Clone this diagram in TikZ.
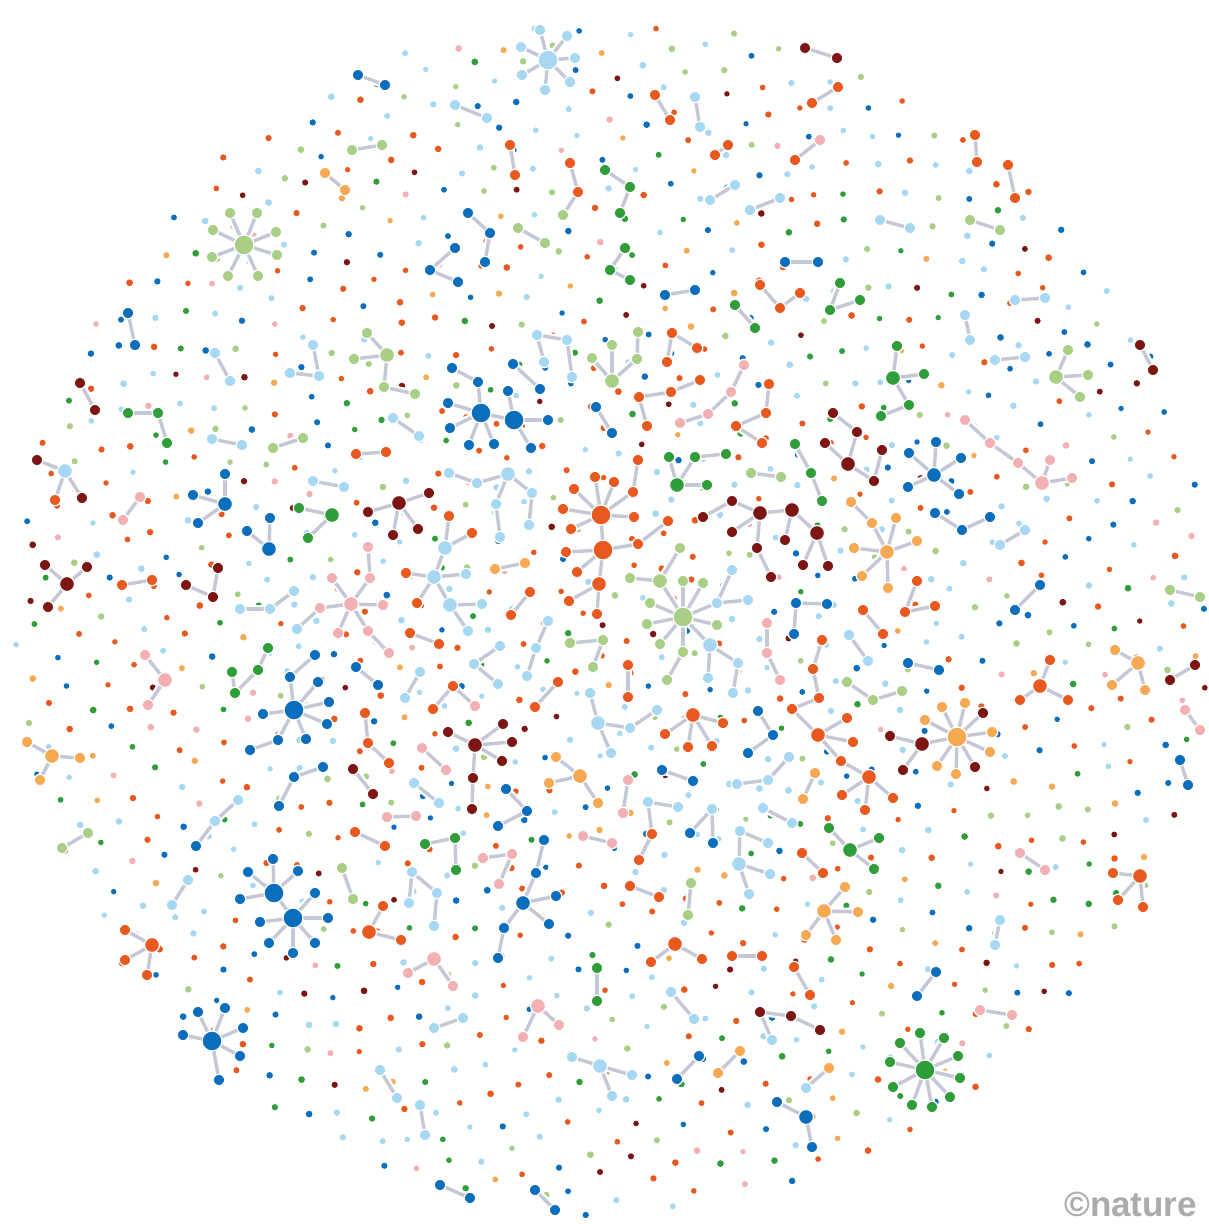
\documentclass[tikz,border=0pt]{standalone}
\usepackage{fontspec}
\setmainfont{Liberation Sans}
\definecolor{db}{HTML}{0B6EBD}
\definecolor{lb}{HTML}{A6D8F3}
\definecolor{or}{HTML}{E8591F}
\definecolor{dr}{HTML}{7C1612}
\definecolor{gr}{HTML}{2F9D3A}
\definecolor{lg}{HTML}{A9CE85}
\definecolor{og}{HTML}{F6A953}
\definecolor{pk}{HTML}{F2B0B3}
\definecolor{lnkc}{HTML}{C4C7D6}
\definecolor{logoc}{HTML}{ABABAB}
\colorlet{s0}{or}\colorlet{s1}{or}\colorlet{s2}{or}\colorlet{s3}{or}\colorlet{s4}{or}
\colorlet{s5}{lb}\colorlet{s6}{lb}\colorlet{s7}{lb}\colorlet{s8}{lb}\colorlet{s9}{lb}
\colorlet{s10}{db}\colorlet{s11}{db}\colorlet{s12}{db}
\colorlet{s13}{lg}\colorlet{s14}{lg}
\colorlet{s15}{gr}\colorlet{s16}{gr}
\colorlet{s17}{dr}\colorlet{s18}{pk}\colorlet{s19}{og}
\pgfdeclarelayer{dots}\pgfdeclarelayer{cas}\pgfdeclarelayer{lnk}
\pgfsetlayers{dots,cas,lnk,main}
\tikzset{
  nl/.style={circle,inner sep=0pt,minimum size=11.5pt,draw=white,line width=1.2pt},
  nm/.style={circle,inner sep=0pt,minimum size=15pt,draw=white,line width=1.2pt},
  nh/.style={circle,inner sep=0pt,minimum size=20pt,draw=white,line width=1.2pt},
  edgecase/.style={white,line width=8pt},
  edgeline/.style={lnkc,line width=3.4pt}
}
\newcommand\pts[3]{\foreach \nm/\xx/\yy in {#3}{\node[#1,fill=#2] (\nm) at (\xx,\yy) {};}}
\def\elist{A0/A1,A0/A2,A0/A3,A0/A4,A0/A5,A0/A6,A0/A7,
B0/B1,B0/B2,B0/B3,B0/B4,B0/B5,B0/B6,B0/B7,B0/B8,
C1/C2,D1/D2,D2/D3,E0/E1,E0/E2,E0/E3,E3/E4,
F1/F2,F2/F0,F0/F3,F0/F4,F0/F5,F0/F6,F0/G0,G0/G1,G0/G2,G0/G3,
H1/H2,I1/I2,I1/I4,I2/I3,J1/J2,K1/K2,L1/L2,M1/M2,
N0/N1,N0/N2,N0/N3,O1/O2,O3/O2,P1/P2,Q0/Q1,Q0/Q2,
R0/R1,R0/R2,R0/R3,R0/R4,
S1/S2,S2/S3,S3/S4,S3/S5,S5/S6,S4/S7,
T0/T1,T1/T6,T1/T7,T0/T2,T0/T3,T3/T4,T3/T5,T0/T8,T0/T9,
U1/U2,V1/V2,
W0/W1,W1/W2,W0/W3,W0/W4,W0/W5,W0/W6,W0/W7,W7/W8,W4/W9,
X1/X2,X2/X3,Y1/Y2,Y3/Y2,Z1/Z2,
AA1/AA2,AA2/AA3,AB1/AB2,AB2/AB3,AC1/AC2,AC2/AC4,AC3/AC4,
AD0/AD1,AD1/AD2,AD0/AD3,AD0/AD4,AD0/AD5,AD0/AD6,AD0/AD7,AD0/AD8,AD8/AD9,
AE1/AE2,AF1/AF2,AG1/AG2,AG1/AG3,AH1/AH2,
BA0/BA1,BA0/BA2,BA0/BA3,BA3/BA4,BB1/BB2,BB1/BB3,
BC1/BC2,BC2/BC3,BC1/BC4,BD1/BD2,
BE1/BE2,BE2/BE3,BE3/BE4,BF1/BF2,BF2/BF3,BF3/BF4,
BG1/BG0,BG0/BG2,BG0/BG3,BG3/BG4,
BH1/BH2,BH2/BH0,BH3/BH0,BH0/BH5,BH5/BH4,
BI1/BI2,BI2/BI3,BJ1/BJ2,
BK0/BK1,BK0/BK2,BK0/BK3,BK0/BK4,BK0/BK5,BL1/BL2,BL2/BL3,
BM0/BM1,BM0/BM2,BM2/BM3,BM0/BM4,
BN0/BN3,BN0/BN4,BN0/BN5,BN0/BN6,BN6/BN7,BN0/BN8,BN0/BN9,BN0/BN10,BN0/BN1,BN1/BN11,BN1/BN12,BN1/BN13,BN13/BN14,BN1/BN2,BN2/BN15,BN2/BN16,
BO0/BO1,BO1/BO2,BO1/BO3,BO0/BO4,BO0/BO5,BO0/BO6,BO0/BO7,BO0/BO8,BO0/BO9,BO9/BO10,BO0/BO11,BO0/BO12,BO12/BO13,BO12/BO14,BO13/BO15,BO0/BO16,BO16/BO17,BO16/BO18,
BP1/BP2,BP1/BP3,BQ1/BQ2,
BR1/BR2,BR2/BR0,BR0/BR3,BR0/BR4,BR0/BR5,BR5/BR6,BR3/BR7,BR3/BR8,BR8/BR9,BR8/BR10,
BS1/BS2,BS2/BS0,BS0/BS3,BS0/BS4,BS0/BS5,BS0/BS6,BS0/BS7,
BT1/BT2,BT1/BT3,BU1/BU2,BU2/BU3,BV1/BV2,BW1/BW2,BW2/BW3,BX1/BX2,
BY1/BY2,BY2/BY3,BY3/BY4,BY4/CF0,BZ1/BZ2,BZ2/BZ3,CB1/CB2,
CC0/CC1,CC0/CC2,CC2/CC3,CC0/CC4,
CD0/CD1,CD0/CD2,CD0/CD3,CD0/CD4,CE1/CE2,CE2/CE3,
CF0/CF1,CF0/CF2,CF0/CF3,CF3/CF4,CF4/CF5,CF4/CF6,CF4/CF7,
CG0/CG1,CG0/CG2,CG0/CG3,CG0/CG4,CG0/CG5,CG0/CG6,CG0/CG7,CG0/CG8,CG0/CG9,CG0/CG10,CG10/CG11,CG10/CG12,
CH1/CH2,CI1/CI2,CI2/CI3,CJ0/CJ1,CJ0/CJ2,CJ0/CJ3,CK1/CK2,CL1/CL2,
CM1/CM2,CM1/CM3,CM3/CM4,CN0/CN1,CN0/CN2,
CO1/CO2,CO1/CO3,CO3/CO4,CO3/CO5,CP1/CP2,
CQ0/CQ1,CQ0/CQ2,CQ0/CQ3,CR1/CR2,CS1/CS2,CT1/CT2,CU1/CU2,
CV0/CV1,CV0/CV2,CV0/CV3,CV0/CV4,CW1/CW2,CW1/CW3,
CX1/CX2,CY1/CY2,CZ1/CZ2,DA1/DA2,DB1/DB2,
DC1/DC2,DC2/DC3,DC1/DC4,
DD0/DD1,DD0/DD2,DD0/DD3,DD0/DD4,DD0/DD5,DD0/DD6,DD0/DD7,DD0/DD8,DD0/DD9,DD0/DD10,
DE0/DE1,DE0/DE2,DE0/DE3,DF1/DF2,DG1/DG2,DH1/DH2,DI0/DI1,DI0/DI2,
EA1/EA2,EA2/EA3,EB1/EB2,EB2/EB3,EC1/EC2,EC2/EC3,ED1/ED2,
EE0/EE1,EE0/EE2,EE0/EE3,EE0/EE4,EE0/EE5,EE5/EE6,
EF1/EF2,EG1/EG2,EH1/EH2,EI1/EI2,EI2/EI3,EJ1/EJ2,EK1/EK2,EK2/EK3,
EL2/EL1,EL1/EL3,EM1/EM2,EN1/EN2,EN1/EN3,EN2/EN4,
EO1/EO2,EO2/EO0,EO0/EO3,EO0/EO4,EO0/EO5,EO5/EO6,
EP0/EP1,EP0/EP2,EP0/EP3,EP0/EP4,EP0/EQ0,
EQ0/EQ1,EQ0/EQ2,EQ0/EQ3,EQ0/EQ4,EQ0/EQ5,EQ0/EQ6,
ER1/ER2,ER2/ER3,ES1/ES2,ES1/ES3,ET1/ET2,ET1/ET3,EU1/EU2,
EV0/EV1,EV0/EV2,EV0/EV3,EV0/EV4,EV0/EV5,EV0/EV6,EW1/EW2,
FA1/FA2,FB1/FB2,FC1/FC2,FC3/FC4,FD1/FD2,FE1/FE2,FF1/FF2,FG1/FG2,FH1/FH2,
FI1/FI2,FI2/FI3,FJ1/FJ2,FJ2/FJ3,FK1/FK2,FK2/FK3,FL1/FL2,FL2/FL3,FM1/FM2,
FN1/FN2,FN2/FN3,FO1/FO2,FP1/FP2,FQ1/FQ2,FR1/FR2,FS1/FS2,FT1/FT2,FU1/FU2,FV1/FV2,FW1/FW2,
FX1/FX2,FX2/FX3,FY1/FY2,FY1/FY3,FZ1/FZ2,GA1/GA2,GB1/GB2,GC1/GC2,GD1/GD2,
GE0/GE1,GE0/GE2,GE0/GE3,GF1/GF2,GG1/GG2,GG2/GG3,GH1/GH2,
GI0/GI1,GI0/GI2,GI0/GI3,GJ1/GJ2,GK0/GK1,GK0/GK2,GK0/GK3,GL1/GL2,
GM0/GM1,GM0/GM2,GN0/GN1,GN0/GN2,GN0/GN3,GO1/GO2,GP1/GP2,
GQ0/GQ1,GQ0/GQ2,GQ0/GQ3,GR0/GR1,GR0/GR2,GR0/GR3,GS1/GS2,GS2/GR1,
GT1/GT2,GU1/GU2,GV0/GV1,GV0/GV2,GV0/GV3,GW1/GW2,
GX0/GX1,GX0/GX2,GX0/GX3,GY1/GY2,GZ1/GZ2,
HA0/HA1,HA0/HA2,HA0/HA3,HB1/HB2,HC1/HC2,HD1/HD2,HE1/HE2,HF1/HF2,HG1/HG2,HI1/HI2,HK1/HK2}
\begin{document}
\begin{tikzpicture}[x=1pt,y=-1pt]
\useasboundingbox (0,0) rectangle (1209,1224);
% background and single dots (sunflower layout, jittered)
\begin{pgfonlayer}{dots}
\fill[white] (0,0) rectangle (1209,1224);
\pgfmathsetseed{7}
\gdef\tg{0}
\foreach \i in {1,...,1250}{
  \pgfmathsetmacro\tn{mod(\tg+137.50776,360)}
  \global\let\tg\tn
  \pgfmathsetmacro\rr{598*sqrt((\i-0.5)/1250)}
  \pgfmathsetmacro\px{612+\rr*cos(\tn)+5*rand}
  \pgfmathsetmacro\py{616+\rr*sin(\tn)+5*rand}
  \pgfmathtruncatemacro\k{random(0,19)}
  \pgfmathsetmacro\sz{2.7+0.7*rnd}
  \fill[s\k] (\px,\py) circle[radius=\sz pt];
}
\end{pgfonlayer}
% big hubs
\pts{nh}{lb}{A0/548/60}
\pts{nh}{lg}{B0/244/245,BO0/683/617}
\pts{nh}{db}{F0/481/413,G0/514/420,AD0/294/710,EP0/274/893,EQ0/293/918,EV0/212/1041}
\pts{nh}{or}{BN0/601/515,BN1/603/550}
\pts{nh}{og}{CG0/957/737}
\pts{nh}{gr}{DD0/925/1070}
% medium hubs
\pts{nm}{lg}{E0/387/355,BA0/612/381,BO1/660/581,GE0/1056/377}
\pts{nm}{db}{N0/225/504,O2/269/549,BK0/934/475,EO0/523/903,DI0/806/1117}
\pts{nm}{gr}{Q0/332/515,BG0/893/378,BM0/677/485,CQ0/850/850}
\pts{nm}{dr}{R0/399/503,BH0/848/464,BR0/760/513,BR3/792/510,BR8/817/533,CG10/922/744,EE0/475/745,GK0/67/584}
\pts{nm}{lb}{S3/508/474,T0/434/577,T1/445/548,T3/450/605,BO12/710/645,CC0/598/723,CO3/739/864,DE0/600/1066,GI0/65/471}
\pts{nm}{pk}{W0/351/604,ES1/434/959,ET1/538/1006,GM0/165/680,GR0/1042/483}
\pts{nm}{or}{BN2/599/584,CD0/693/715,CF0/818/735,CF4/869/777,CW1/675/944,ER2/369/932,GQ0/152/945,GX0/1040/686,HA0/1140/876}
\pts{nm}{og}{BS0/887/552,CJ0/580/776,CV0/824/911,GN0/52/756,GV0/1138/663}
% leaves
\pts{nl}{lb}{A1/575/58,A2/567/36,A3/540/30,A4/521/47,A5/522/75,A6/545/90,A7/570/82,C1/215/353,C2/230/381,D1/313/345,D2/319/376,D3/290/373,I1/537/335,I2/567/340,I3/572/377,I4/544/362,J1/393/418,J2/419/436,L1/212/439,L2/242/445,P1/313/481,P2/344/487,S1/449/473,S2/477/483,S4/532/493,S5/496/504,S6/500/537,S7/529/525,T2/466/574,T4/482/604,T5/468/631,W9/297/629,X1/240/609,X2/270/609,X3/294/591,AA1/548/621,AA2/536/648,AA3/527/676,AB1/500/646,AB2/474/664,AB3/498/684,AF1/420/672,AF2/405/698,BO13/738/663,BO14/708/678,BO15/733/693,BO16/717/603,BO17/748/600,BO18/732/570,BX1/849/635,BX2/868/661,CC1/590/693,CC2/630/728,CC3/657/710,CC4/611/753,CI1/737/784,CI2/768/780,CI3/789/757,CM1/648/802,CM2/678/807,CN0/712/809,CO1/740/831,CO2/768/843,CO4/770/874,CO5/749/894,CP1/763/808,CP2/792/823,DB1/671/992,DB2/694/1019,DC4/772/1040,DE1/632/1075,DE2/612/1096,DE3/572/1057,DH2/806/1088,EB1/238/800,EB2/215/821,EG1/414/783,EG2/439/803,EN1/412/872,EN2/437/893,EN3/409/903,EN4/434/926,EU1/463/1018,EU2/434/1028,EW1/380/1070,EW2/397/1098,FC3/695/97,FC4/700/127,FE1/455/105,FE2/487/118,FQ1/880/220,FQ2/910/228,FS1/750/210,FS2/780/198,FT1/710/200,FT2/735/185,GB1/1015/300,GB2/1045/298,GC1/965/315,GC2/970/340,GD1/995/360,GD2/1025/357,GP1/188/880,GP2/172/905,GT1/1000/545,GT2/1025/530,HC1/1000/920,HC2/995/945,HE1/420/1105,HE2/425/1135}
\pts{nl}{lg}{B1/230/213,B2/257/213,B3/213/230,B4/276/232,B5/212/257,B6/277/255,B7/228/276,B8/258/276,E1/354/359,E2/367/333,E3/384/387,E4/415/394,K1/273/448,K2/303/438,BA1/592/358,BA2/612/345,BA3/637/359,BA4/638/332,BJ1/751/473,BJ2/781/477,BO2/630/578,BO3/680/548,BO4/683/581,BO5/703/583,BO6/650/603,BO7/647/624,BO8/660/644,BO9/683/652,BO10/667/680,BO11/717/625,BP1/603/640,BP2/593/667,BP3/570/643,BZ1/847/682,BZ2/873/700,BZ3/902/691,CU1/691/883,CU2/688/915,EM1/342/868,EM2/353/899,FG1/352/150,FG2/382/145,FI3/563/215,FM1/518/228,FM2/545/243,FR1/970/220,FR2/1000/230,GE1/1068/350,GE2/1088/375,GE3/1080/397,GO1/62/848,GO2/88/833,HI1/1170/590,HI2/1200/597}
\pts{nl}{db}{F1/452/368,F2/478/382,F3/448/403,F4/450/428,F5/469/445,F6/494/444,G1/508/391,G2/548/420,G3/531/448,H1/513/364,H2/540/389,N1/225/474,N2/193/495,N3/198/523,O1/270/518,O3/247/531,AD1/290/677,AD2/315/655,AD3/318/682,AD4/329/702,AD5/327/724,AD6/263/714,AD7/306/739,AD8/278/740,AD9/250/750,AE1/356/667,AE2/378/685,BD1/596/407,BD2/612/433,BK1/936/442,BK2/909/453,BK3/961/458,BK4/908/487,BK5/959/494,BL1/935/513,BL2/962/530,BL3/990/517,BT1/796/603,BT2/827/604,BT3/794/634,CB1/908/663,CB2/939/670,CE1/758/711,CE2/773/735,CE3/748/753,CH1/662/770,CH2/693/781,CN1/690/833,CN2/713/843,DA1/936/972,DA2/917/996,DF1/699/1056,DF2/677/1079,DI1/777/1102,DI2/812/1147,EA1/323/767,EA2/294/777,EA3/279/806,EB3/196/846,EI1/506/789,EI2/527/811,EI3/498/826,EO1/544/840,EO2/536/873,EO3/556/896,EO4/549/924,EO5/504/928,EO6/498/958,EP1/273/859,EP2/298/871,EP3/248/872,EP4/240/899,EQ1/315/893,EQ2/328/918,EQ3/315/943,EQ4/293/953,EQ5/269/943,EQ6/260/922,EV1/198/1012,EV2/225/1008,EV3/243/1028,EV4/240/1056,EV5/219/1080,EV6/183/1035,FA1/358/75,FA2/385/85,FK1/468/213,FK2/490/233,FK3/485/262,FL1/455/248,FL2/430/270,FL3/458/282,FW1/785/262,FW2/818/262,GA1/665/295,GA2/695/290,GU1/1015/610,GU2/1040/585,GY1/1180/760,GY2/1188/785,HF1/440/1185,HF2/470/1198,HG1/535/1190,HG2/555/1210,HK1/128/313,HK2/135/345}
\pts{nl}{gr}{Q1/299/508,Q2/308/538,AC1/268/648,AC2/258/670,AC3/232/672,AC4/235/693,BG1/897/346,BG2/924/374,BG3/909/405,BG4/881/416,BI1/795/444,BI2/811/473,BI3/822/501,BM1/669/457,BM2/695/457,BM3/726/454,BM4/707/485,CQ1/829/828,CQ2/879/838,CQ3/874/869,CY1/597/968,CY2/597/1001,DD1/900/1043,DD2/920/1033,DD3/944/1038,DD4/958/1056,DD5/960/1078,DD6/950/1097,DD7/932/1107,DD8/912/1105,DD9/893/1087,DD10/890/1062,EK1/425/844,EK2/455/838,EK3/456/870,FJ1/605/170,FJ2/630/187,FJ3/620/213,FN1/625/248,FN2/610/270,FN3/630/280,FY1/830/310,FY2/860/300,FY3/840/283,FZ1/735/305,FZ2/755/328,GG1/128/413,GG2/158/413,GG3/167/443}
\pts{nl}{dr}{R1/368/512,R2/429/493,R3/393/535,R4/418/529,Y1/218/568,Y2/213/597,Y3/186/585,BH1/833/413,BH2/857/432,BH3/825/443,BH4/882/450,BH5/874/481,BR1/703/517,BR2/732/501,BR4/732/532,BR5/757/548,BR6/771/577,BR7/785/540,BR9/803/565,BR10/828/566,CG4/983/713,CG7/975/767,CG11/890/736,CG12/903/770,DC1/760/1012,DC2/791/1016,DC3/820/1030,ED1/353/769,ED2/373/794,EE1/448/732,EE2/503/724,EE3/512/742,EE4/502/761,EE5/473/778,EE6/472/809,FB1/805/48,FB2/837/58,GF1/1140/345,GF2/1153/370,GH1/80/383,GH2/95/410,GI1/37/460,GI3/82/498,GK1/45/565,GK2/87/567,GK3/48/607,GW1/1170/680,GW2/1195/665}
\pts{nl}{pk}{W1/370/578,W2/368/547,W3/332/578,W4/320/608,W5/383/605,W6/338/633,W7/368/631,W8/389/653,AG3/475/706,BE1/744/365,BE2/731/392,BE3/708/414,BE4/680/423,BU1/767/623,BU2/767/653,BU3/780/680,CK1/628/780,CK2/623/813,CS1/583/836,CS2/612/843,EF1/422/748,EF2/446/770,EH1/387/817,EH2/416/816,EL1/512/854,EL2/483/858,EL3/499/884,ES2/408/973,ES3/453/986,ET2/559/1025,ET3/523/1037,FV1/820/140,GJ1/140/497,GJ2/123/520,GM1/145/655,GM2/148/705,GR1/1018/463,GR2/1050/460,GR3/1072/478,GS1/965/420,GS2/990/443,GZ1/1185/710,GZ2/1200/730,HB1/1020/853,HB2/1045/870,HD1/980/1010,HD2/1012/1015}
\pts{nl}{or}{M1/356/454,M2/386/452,T6/449/516,T7/472/533,T8/406/573,T9/417/603,V1/530/592,V2/511/615,Z1/410/633,Z2/439/644,AG1/453/686,AG2/433/709,AH1/558/682,AH2/535/707,BB1/672/333,BB2/697/348,BB3/667/362,BC1/639/397,BC2/671/392,BC3/700/380,BC4/647/426,BF1/769/384,BF2/766/413,BF3/736/426,BF4/762/443,BN3/595/477,BN4/614/482,BN5/574/489,BN6/633/492,BN7/638/460,BN8/563/509,BN9/571/529,BN10/634/517,BN11/566/552,BN12/577/572,BN13/638/544,BN14/668/521,BN15/569/601,BN16/597/614,BQ1/628/665,BQ2/628/697,BV1/863/610,BV2/883/634,BW1/917/581,BW2/905/612,BW3/935/606,BY1/822/640,BY2/813/669,BY3/819/698,BY4/792/709,CD1/665/734,CD2/723/723,CD3/688/747,CD4/712/746,CF1/847/718,CF2/853/742,CF3/841/761,CF5/842/795,CF6/865/810,CF7/893/798,CM3/652/834,CM4/639/860,CR1/802/853,CR2/823/873,CT1/630/886,CT2/659/897,CW2/651/962,CW3/702/959,CX1/732/956,CX2/762/956,CZ1/794/967,CZ2/810/995,EC1/365/713,EC2/368/743,EC3/389/763,EJ1/355/832,EJ2/385/846,ER1/383/906,ER3/401/940,FC1/655/95,FC2/670/120,FD1/838/87,FD2/812/103,FH1/510/145,FH2/515/175,FI1/570/163,FI2/578/192,FO1/1008/165,FO2/1015/198,FP1/975/135,FP2/977/162,FU1/715/155,FU2/728/145,FV2/795/160,FX1/760/285,FX2/780/308,FX3/800/293,GI2/55/500,GL1/122/585,GL2/152/580,GQ1/125/930,GQ2/125/960,GQ3/147/975,GX1/1050/660,GX2/1020/700,GX3/1068/700,HA1/1113/873,HA2/1143/907,HA3/1118/900}
\pts{nl}{og}{U1/495/569,U2/525/563,BS1/851/502,BS2/872/523,BS3/896/518,BS4/917/541,BS5/854/548,BS6/862/576,BS7/888/588,CG1/965/703,CG2/942/707,CG3/925/720,CG5/992/732,CG6/990/752,CG8/956/774,CG9/937/766,CJ1/598/803,CJ2/549/783,CJ3/556/757,CL1/815/773,CL2/803/799,CV1/845/887,CV2/858/912,CV3/806/935,CV4/836/940,DG1/740/1051,DG2/718/1073,DH1/829/1068,FF1/325/173,FF2/345/190,GN1/27/742,GN2/80/758,GN3/40/780,GV1/1115/650,GV2/1145/690,GV3/1112/685}
% connectors
\begin{pgfonlayer}{cas}
\foreach \a/\b in \elist {\draw[edgecase] (\a.center) -- (\b.center);}
\end{pgfonlayer}
\begin{pgfonlayer}{lnk}
\foreach \a/\b in \elist {\draw[edgeline] (\a.center) -- (\b.center);}
\end{pgfonlayer}
% credit
\node[anchor=base west,inner sep=0pt,text=logoc,font=\bfseries\fontsize{35}{35}\selectfont] (logo) at (1064,1216) {©nature};
\end{tikzpicture}
\end{document}
